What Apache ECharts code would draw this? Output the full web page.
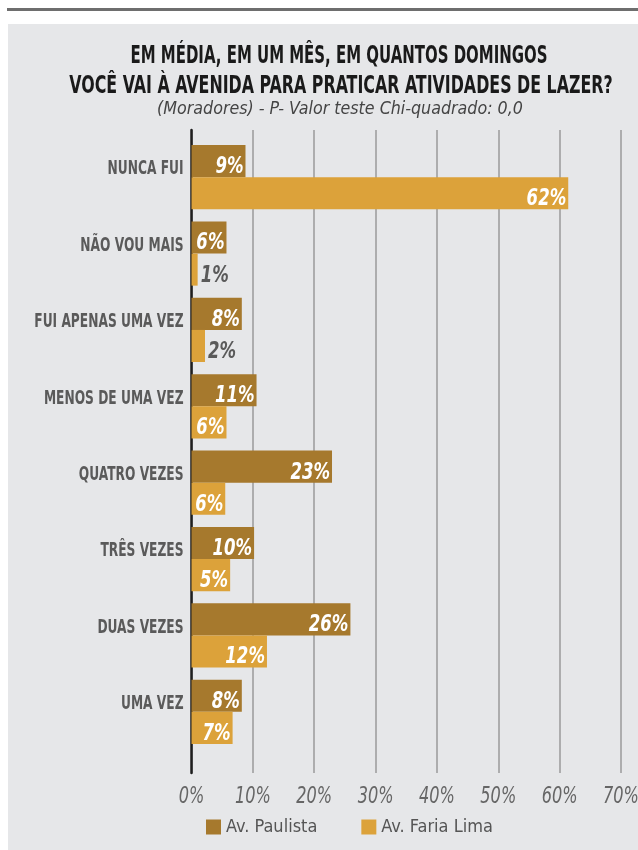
<!DOCTYPE html>
<html><head><meta charset="utf-8">
<script src="https://cdn.jsdelivr.net/npm/echarts@6/dist/echarts.min.js"></script>
<style>html,body{margin:0;padding:0;background:#fff}#c{width:638px;height:850px}</style>
</head><body><div id="c"></div>
<script>
const categories = ["NUNCA FUI","NÃO VOU MAIS","FUI APENAS UMA VEZ","MENOS DE UMA VEZ","QUATRO VEZES","TRÊS VEZES","DUAS VEZES","UMA VEZ"];
// bar lengths as drawn in the picture
const paulista = [8.8, 5.7, 8.2, 10.6, 22.9, 10.2, 25.9, 8.2];
const fariaLima = [61.4, 1.0, 2.2, 5.7, 5.5, 6.3, 12.3, 6.7];
// percentages as printed on the bars
const paulistaLabels = [9, 6, 8, 11, 23, 10, 26, 8];
const fariaLimaLabels = [62, 1, 2, 6, 6, 5, 12, 7];
const seriesNames = ["Av. Paulista", "Av. Faria Lima"];
const xTicks = [0, 10, 20, 30, 40, 50, 60, 70];
const titleLines = ["EM MÉDIA, EM UM MÊS, EM QUANTOS DOMINGOS", "VOCÊ VAI À AVENIDA PARA PRATICAR ATIVIDADES DE LAZER?"];
const subtitle = "(Moradores) - P- Valor teste Chi-quadrado: 0,0";

const FONT = '"Liberation Sans Narrow","DejaVu Sans Condensed",sans-serif';
const C1 = '#a6792d', C2 = '#dca23a';
const GAP = 0.16;

function txt(text, x, y, font, fill, sx, align) {
  return {type: 'text', x: x, y: y, scaleX: sx, silent: true,
    style: {text: text, font: font, fill: fill, align: align, textAlign: align,
            verticalAlign: 'middle', textVerticalAlign: 'middle'}};
}

function barLabelSeries(vals, labels, which) {
  return {
    type: 'custom', xAxisIndex: 0, yAxisIndex: 0, silent: true, z: 10, clip: false,
    data: vals.map((v, i) => [v, i]), encode: {x: 0, y: 1},
    renderItem: (params, api) => {
      const v = api.value(0), i = api.value(1);
      const p = api.coord([v, i]);
      const bw = api.size([0, 1])[1] * (1 - GAP) / 2;
      const cy = p[1] + (which === 0 ? -bw / 2 : bw / 2) + 6;
      const lab = labels[params.dataIndex];
      const small = lab < 3;
      return txt(lab + '%', small ? p[0] + 3 : p[0] - 2, cy,
        'italic bold 23px ' + FONT, small ? '#5a5a5a' : '#ffffff', 0.8, small ? 'left' : 'right');
    }
  };
}

const chart = echarts.init(document.getElementById('c'), null, {renderer: 'canvas'});
chart.setOption({
  animation: false,
  backgroundColor: '#fff',
  graphic: [
    {type: 'rect', shape: {x: 7, y: 8, width: 631, height: 3}, style: {fill: '#6e6e6e'}, z: -10},
    {type: 'rect', shape: {x: 8, y: 24, width: 630, height: 826}, style: {fill: '#e6e7e9'}, z: -10},
    {type: 'text', x: 339, y: 56, scaleX: 0.665, style: {text: titleLines[0], font: 'bold 25px ' + FONT,
      fill: '#1a1a1a', align: 'center', verticalAlign: 'middle', textAlign: 'center', textVerticalAlign: 'middle'}},
    {type: 'text', x: 341, y: 86, scaleX: 0.705, style: {text: titleLines[1], font: 'bold 25px ' + FONT,
      fill: '#1a1a1a', align: 'center', verticalAlign: 'middle', textAlign: 'center', textVerticalAlign: 'middle'}},
    {type: 'text', x: 340, y: 109, style: {text: subtitle, font: 'italic 17.7px ' + FONT,
      fill: '#444', align: 'center', verticalAlign: 'middle', textAlign: 'center', textVerticalAlign: 'middle'}}
  ],
  legend: {
    bottom: 9, left: 201, itemWidth: 15, itemHeight: 15, itemGap: 44,
    icon: 'rect',
    textStyle: {fontFamily: FONT, fontSize: 18, color: '#555'},
    data: seriesNames
  },
  grid: [
    {left: 191.5, top: 139, width: 429.5, height: 611, containLabel: false},
    {left: 191.5, top: 130, width: 429.5, height: 643, containLabel: false}
  ],
  xAxis: [
    {gridIndex: 0, type: 'value', min: 0, max: 70, interval: 10, show: false},
    {gridIndex: 1, type: 'value', min: 0, max: 70, interval: 10,
     axisLine: {show: false}, axisTick: {show: false},
     splitLine: {show: true, lineStyle: {color: '#9a9a9a', width: 1.5}},
     axisLabel: {show: false}}
  ],
  yAxis: [
    {gridIndex: 0, type: 'category', inverse: true, data: categories,
     axisLine: {show: false}, axisTick: {show: false}, axisLabel: {show: false}},
    {gridIndex: 1, type: 'value', min: 0, max: 1, show: true,
     axisLine: {show: true, lineStyle: {color: '#1e1e1e', width: 2.5}},
     axisTick: {show: false}, axisLabel: {show: false}, splitLine: {show: false}}
  ],
  series: [
    {name: seriesNames[0], type: 'bar', xAxisIndex: 0, yAxisIndex: 0, data: paulista,
     itemStyle: {color: C1}, barGap: '0%', barCategoryGap: (GAP * 100) + '%', z: 5},
    {name: seriesNames[1], type: 'bar', xAxisIndex: 0, yAxisIndex: 0, data: fariaLima,
     itemStyle: {color: C2}, barGap: '0%', barCategoryGap: (GAP * 100) + '%', z: 5},
    barLabelSeries(paulista, paulistaLabels, 0),
    barLabelSeries(fariaLima, fariaLimaLabels, 1),
    {
      type: 'custom', xAxisIndex: 0, yAxisIndex: 0, silent: true, z: 10, clip: false,
      data: categories.map((c, i) => [0, i]), encode: {x: 0, y: 1},
      renderItem: (params, api) => {
        const p = api.coord([0, api.value(1)]);
        return txt(categories[params.dataIndex], p[0] - 8, p[1] - 8,
          'bold 20px ' + FONT, '#5a5a5a', 0.68, 'right');
      }
    },
    {
      type: 'custom', xAxisIndex: 1, yAxisIndex: 1, silent: true, z: 10, clip: false,
      data: xTicks.map(v => [v, 0]), encode: {x: 0, y: 1},
      renderItem: (params, api) => {
        const p = api.coord([api.value(0), 0]);
        return txt(api.value(0) + '%', p[0], p[1] + 24,
          'italic 23px ' + FONT, '#666', 0.78, 'center');
      }
    }
  ]
});
</script></body></html>
